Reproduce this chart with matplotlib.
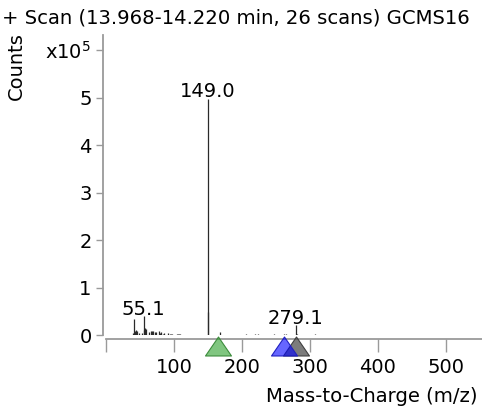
import matplotlib
matplotlib.use("Agg")
import matplotlib.pyplot as plt
from matplotlib.path import Path

# ---- data (m/z, abundance in units of 1e5 counts) ----
mz = [39, 41, 42, 43, 44, 45, 48, 53, 55, 56, 57, 59, 63, 65, 67, 69, 71, 73,
      77, 79, 81, 83, 85, 91, 93, 95, 97, 104, 105, 107, 109, 121, 135,
      149, 150, 167, 177, 191, 205, 219, 223, 239, 247, 261, 265, 279, 280,
      293, 307, 325, 341, 355, 391, 409, 429, 447, 490, 520]
counts = [0.05, 0.35, 0.08, 0.12, 0.05, 0.10, 0.04, 0.05, 0.40, 0.12, 0.16, 0.14, 0.06, 0.08, 0.10, 0.09, 0.06, 0.07,
          0.08, 0.04, 0.06, 0.03, 0.05, 0.04, 0.03, 0.03, 0.02, 0.03, 0.02, 0.02, 0.02, 0.015, 0.015,
          4.97, 0.48, 0.07, 0.015, 0.01, 0.02, 0.03, 0.02, 0.015, 0.02, 0.025, 0.02, 0.21, 0.03,
          0.015, 0.02, 0.01, 0.01, 0.008, 0.012, 0.01, 0.006, 0.005, 0.01, 0.004]
peak_labels = [55.1, 149.0, 279.1]
peak_label_heights = [0.40, 4.97, 0.21]
marker_mz = [165, 279, 262]
marker_colors = ["#2ca02c", "#505050", "#0000ff"]
marker_edges = ["#3c8c3c", "#404040", "#2020c0"]
marker_alpha = [0.6, 0.75, 0.6]

xticks = [0, 100, 200, 300, 400, 500]
xticklabels = ["", "100", "200", "300", "400", "500"]
yticks = [0, 1, 2, 3, 4, 5, 6]
yticklabels = ["0", "1", "2", "3", "4", "5", r"x10$^5$"]

title = "+ Scan (13.968-14.220 min, 26 scans) GCMS16"
xlabel = "Mass-to-Charge (m/z)"
ylabel = "Counts"

W, H = 482, 412
fig = plt.figure(figsize=(W / 100, H / 100), dpi=100)
plt.rcParams["font.family"] = ["DejaVu Sans"]
FS = 14
FS_T = 14.1

ax = fig.add_axes([106.4 / W, (H - 335.3) / H, (W - 106.4) / W, 300.3 / H])
ax.set_xlim(0, 553.2)
ax.set_ylim(0, 6.32)

ax.vlines(mz, 0, counts, color="#2a2a2a", linewidth=0.9)

for lab, x, h in zip(peak_labels, [55, 149, 279], peak_label_heights):
    ax.annotate(f"{lab:.1f}", (x, h), xytext=(0, 1.2), textcoords="offset points",
                ha="center", va="baseline", fontsize=FS, color="black")

# triangle markers below axis
tri = Path([(-1, -0.73), (1, -0.73), (0, 0.73), (-1, -0.73)],
           [Path.MOVETO, Path.LINETO, Path.LINETO, Path.CLOSEPOLY])
ycen = -(345.5 - 335.3) / 47.5
for x, c, e, a in zip(marker_mz, marker_colors, marker_edges, marker_alpha):
    ax.plot([x], [ycen], marker=tri, markersize=18.7, markerfacecolor=matplotlib.colors.to_rgba(c, a),
            markeredgecolor=e, markeredgewidth=0.8, linestyle="none", clip_on=False, zorder=5)

for s in ["top", "right"]:
    ax.spines[s].set_visible(False)
spc = "#9a9a9a"
ax.spines["left"].set_position(("outward", 2.7))
ax.spines["bottom"].set_position(("outward", 2.7))
ax.spines["left"].set_color(spc)
ax.spines["bottom"].set_color(spc)
ax.spines["left"].set_linewidth(1.3)
ax.spines["bottom"].set_linewidth(1.3)

ax.set_xticks(xticks)
ax.set_xticklabels(xticklabels)
ax.set_yticks(yticks)
ax.set_yticklabels(yticklabels)
ax.tick_params(axis="x", direction="out", length=9.4, width=1.0, color=spc, pad=4, labelsize=FS)
ax.tick_params(axis="y", direction="out", length=5, width=1.0, color=spc, pad=3, labelsize=FS)

fig.text(2 / W, 1 - 18 / H, title, ha="left", va="center", fontsize=FS_T)
fig.text(478 / W, 1 - 397 / H, xlabel, ha="right", va="center", fontsize=FS_T)
fig.text(16 / W, 1 - 66 / H, ylabel, ha="center", va="center", rotation=90, fontsize=FS)

fig.savefig("out.png", dpi=100)
